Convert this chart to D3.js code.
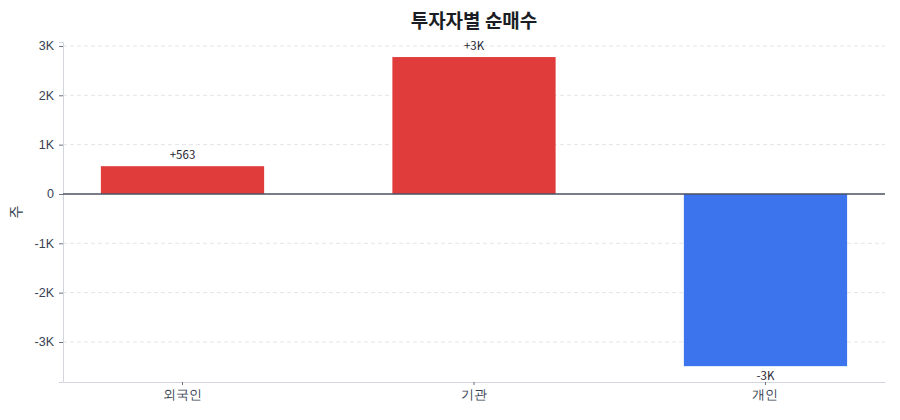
<!DOCTYPE html>
<html>
<head>
<meta charset="utf-8">
<script src="https://cdn.jsdelivr.net/npm/d3@7"></script>
<style>
  body { margin: 0; background: #fff; }
  svg { font-family: "Noto Sans CJK KR", "Noto Sans", sans-serif; }
</style>
</head>
<body>
<div id="chart"></div>
<script>
// data
const categories = ['외국인', '기관', '개인'];
const netBuy = [563, 2775, -3490];
const yTicks = [-3000, -2000, -1000, 0, 1000, 2000, 3000];

const width = 900, height = 420;
const margin = { top: 42, right: 15, bottom: 38, left: 63 };

const svg = d3.select('#chart').append('svg')
    .attr('width', width)
    .attr('height', height);

const x = d3.scaleBand()
    .domain(categories)
    .range([margin.left, width - margin.right])
    .paddingInner(0.44)
    .paddingOuter(0.13);

const y = d3.scaleLinear()
    .domain([d3.min(netBuy) * 1.092, d3.max(netBuy) * 1.11])
    .range([height - margin.bottom, margin.top]);

const fmtK = (v) => {
  if (v === 0) return '0';
  if (Math.abs(v) < 1000) return String(v);
  return (v / 1000) + 'K';
};
const fmtLabel = (v) => {
  const s = Math.abs(v) < 1000 ? String(Math.abs(v)) : Math.round(Math.abs(v) / 1000) + 'K';
  return (v >= 0 ? '+' : '-') + s;
};

// grid
svg.append('g')
    .selectAll('line')
    .data(yTicks.filter((d) => d !== 0))
    .join('line')
    .attr('x1', margin.left)
    .attr('x2', width - margin.right)
    .attr('y1', (d) => y(d))
    .attr('y2', (d) => y(d))
    .attr('stroke', '#e3e5ea')
    .attr('stroke-dasharray', '4,3');

// y axis
const yAxis = svg.append('g')
    .attr('transform', `translate(${margin.left},0)`)
    .call(d3.axisLeft(y).tickValues(yTicks).tickFormat(fmtK).tickSize(4).tickPadding(5));
yAxis.select('.domain').attr('stroke', '#d3d6de');
yAxis.selectAll('.tick line').attr('stroke', '#6b7080');
yAxis.selectAll('.tick text')
    .attr('fill', '#374151')
    .style('font-size', '12.5px');

// x axis
const xAxis = svg.append('g')
    .attr('transform', `translate(0,${height - margin.bottom})`)
    .call(d3.axisBottom(x).tickSize(3).tickPadding(5).tickSizeOuter(0));
xAxis.select('.domain').attr('stroke', '#d3d6de');
xAxis.selectAll('.tick line').attr('stroke', '#6b7080');
xAxis.selectAll('.tick text')
    .attr('fill', '#374151')
    .style('font-size', '12.5px');

// bars
svg.append('g')
    .selectAll('rect')
    .data(categories)
    .join('rect')
    .attr('x', (d) => x(d))
    .attr('width', x.bandwidth())
    .attr('y', (d, i) => y(Math.max(0, netBuy[i])))
    .attr('height', (d, i) => Math.abs(y(netBuy[i]) - y(0)))
    .attr('fill', (d, i) => netBuy[i] >= 0 ? '#e03c3c' : '#3b74ec');

// zero line
svg.append('line')
    .attr('x1', margin.left)
    .attr('x2', width - margin.right)
    .attr('y1', y(0))
    .attr('y2', y(0))
    .attr('stroke', '#4b5160')
    .attr('stroke-width', 1.5);

// value labels
svg.append('g')
    .selectAll('text')
    .data(categories)
    .join('text')
    .attr('x', (d) => x(d) + x.bandwidth() / 2)
    .attr('y', (d, i) => netBuy[i] >= 0 ? y(netBuy[i]) - 7 : y(netBuy[i]) + 14)
    .attr('text-anchor', 'middle')
    .attr('fill', '#1f2430')
    .style('font-size', '11.5px')
    .text((d, i) => fmtLabel(netBuy[i]));

// title
svg.append('text')
    .attr('x', (margin.left + width - margin.right) / 2)
    .attr('y', 28)
    .attr('text-anchor', 'middle')
    .attr('fill', '#1a1d24')
    .style('font-size', '19px')
    .style('font-weight', 'bold')
    .text('투자자별 순매수');

// y label
svg.append('text')
    .attr('transform', `translate(21,${(margin.top + height - margin.bottom) / 2}) rotate(-90)`)
    .attr('text-anchor', 'middle')
    .attr('fill', '#374151')
    .style('font-size', '14px')
    .text('주');
</script>
</body>
</html>
